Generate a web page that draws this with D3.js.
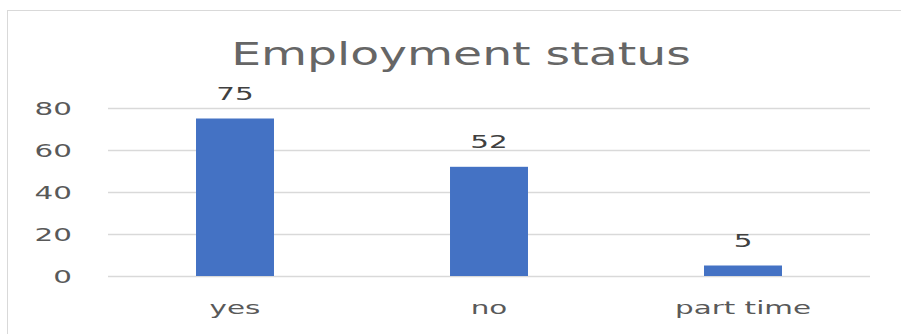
<!DOCTYPE html>
<html>
<head>
<meta charset="utf-8">
<script src="https://cdn.jsdelivr.net/npm/d3@7"></script>
<style>
  body { margin: 0; background: #fff; }
  text { font-family: "DejaVu Sans", sans-serif; fill: #595959; }
</style>
</head>
<body>
<svg id="chart" width="901" height="334"></svg>
<script>
// data
let categories = ["yes", "no", "part time"];
let values = [75, 52, 5];
let yTicks = [0, 20, 40, 60, 80];
let title = "Employment status";

let margin = {top: 108, right: 31, bottom: 58, left: 108};
let width = 901, height = 334;
let sxLabel = 1.68;   // the source picture is stretched sideways
let sxTitle = 1.5;

let svg = d3.select("#chart");

// chart area border
svg.append("rect")
    .attr("x", 7.5).attr("y", 10.5)
    .attr("width", 910).attr("height", 340)
    .attr("fill", "none")
    .attr("stroke", "#d9d9d9");

let x = d3.scaleBand()
    .domain(categories)
    .range([margin.left, width - margin.right])
    .paddingInner(0.693)
    .paddingOuter(0.3465);

let y = d3.scaleLinear()
    .domain([0, 80])
    .range([height - margin.bottom, margin.top]);

// gridlines + y labels
let yAxis = svg.append("g")
    .attr("transform", `translate(${margin.left},0)`)
    .call(d3.axisLeft(y).tickValues(yTicks).tickSize(-(width - margin.left - margin.right)));

yAxis.select(".domain").remove();
yAxis.selectAll("line").attr("stroke", "#d9d9d9").attr("stroke-width", 1.5);
yAxis.selectAll("text")
    .attr("x", -36 / sxLabel)
    .attr("dy", "0.36em")
    .attr("transform", `scale(${sxLabel},1)`)
    .style("font-size", "17.5px")
    .style("fill", "#595959");

// bars
svg.selectAll(".bar")
    .data(values)
    .enter().append("rect")
    .attr("class", "bar")
    .attr("x", (d, i) => x(categories[i]))
    .attr("width", x.bandwidth())
    .attr("y", d => y(d))
    .attr("height", d => y(0) - y(d))
    .attr("fill", "#4472c4");

// value labels
svg.selectAll(".val")
    .data(values)
    .enter().append("text")
    .attr("class", "val")
    .attr("text-anchor", "middle")
    .attr("transform", (d, i) => `translate(${x(categories[i]) + x.bandwidth() / 2},${y(d) - 19}) scale(${sxLabel},1)`)
    .style("font-size", "17.5px")
    .style("fill", "#404040")
    .text(d => d);

// category labels
svg.selectAll(".cat")
    .data(categories)
    .enter().append("text")
    .attr("class", "cat")
    .attr("text-anchor", "middle")
    .attr("transform", d => `translate(${x(d) + x.bandwidth() / 2},${height - margin.bottom + 38}) scale(${sxLabel},1)`)
    .style("font-size", "17.5px")
    .text(d => d);

// title
svg.append("text")
    .attr("text-anchor", "middle")
    .attr("transform", `translate(461,65) scale(${sxTitle},1)`)
    .style("font-size", "31.5px")
    .style("fill", "#666666")
    .text(title);
</script>
</body>
</html>
